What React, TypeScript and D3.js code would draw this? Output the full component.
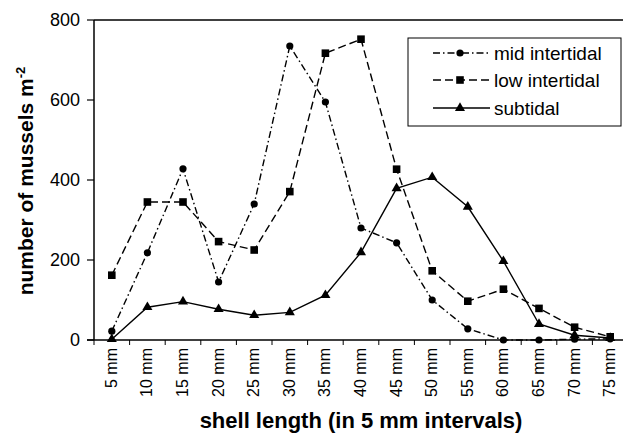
import React from "react";
import * as d3 from "d3";

const categories = ["5 mm","10 mm","15 mm","20 mm","25 mm","30 mm","35 mm","40 mm","45 mm","50 mm","55 mm","60 mm","65 mm","70 mm","75 mm"];
const midIntertidal = [22,218,428,145,340,735,595,280,243,100,28,0,0,2,3];
const lowIntertidal = [162,345,345,246,225,371,717,752,427,173,97,127,79,32,8];
const subtidal = [2,82,96,77,62,69,112,219,379,407,333,197,40,12,5];
const yTicks = [0,200,400,600,800];
const seriesNames = ["mid intertidal","low intertidal","subtidal"];

const W = 623, H = 434;
const left = 94, right = 628, top = 20, bottom = 340;

export default function App() {
  const x = d3.scaleBand<string>().domain(categories).range([left, right]);
  const y = d3.scaleLinear().domain([0, 800]).range([bottom, top]);
  const cx = (c: string) => (x(c) as number) + x.bandwidth() / 2;
  const line = d3.line<number>().x((_, i) => cx(categories[i])).y(d => y(d));

  const series = [
    { name: seriesNames[0], data: midIntertidal, dash: "7,3,1.5,3", marker: "circle" },
    { name: seriesNames[1], data: lowIntertidal, dash: "8,4", marker: "square" },
    { name: seriesNames[2], data: subtidal, dash: "none", marker: "triangle" },
  ];

  const marker = (type: string, px: number, py: number, key: any) => {
    if (type === "circle") return <circle key={key} cx={px} cy={py} r={3.6} fill="#000" />;
    if (type === "square") return <rect key={key} x={px - 3.8} y={py - 3.8} width={7.6} height={7.6} fill="#000" />;
    const s = d3.symbol().type(d3.symbolTriangle).size(44)();
    return <path key={key} d={s as string} transform={`translate(${px},${py})`} fill="#000" />;
  };

  const legX = 408, legY = 38, legW = 213, legH = 88;
  const legRows = [53, 80, 108];

  return (
    <svg width={W} height={H} style={{ position: "absolute", left: 0, top: 0, fontFamily: "Arial, 'Liberation Sans', sans-serif" }}>
      <rect x={0} y={0} width={W} height={H} fill="#fff" />
      {/* axes frame */}
      <line x1={left} y1={top} x2={W} y2={top} stroke="#000" strokeWidth={1.5} />
      <line x1={left} y1={top} x2={left} y2={bottom} stroke="#000" strokeWidth={1.5} />
      <line x1={left - 7} y1={bottom} x2={W} y2={bottom} stroke="#000" strokeWidth={1.5} />
      {yTicks.map(t => (
        <g key={t}>
          <line x1={left - 7} x2={left} y1={y(t)} y2={y(t)} stroke="#000" strokeWidth={1.2} />
          <text x={80} y={y(t)} dy="0.36em" textAnchor="end" fontSize={18}>{t}</text>
        </g>
      ))}
      {categories.map((c, i) => (
        <line key={"tk" + i} x1={x(c) as number} x2={x(c) as number} y1={bottom} y2={bottom + 5} stroke="#000" strokeWidth={1} />
      ))}
      {categories.map(c => (
        <text key={"lb" + c} transform={`translate(${cx(c) + 5},${bottom + 8}) rotate(-90)`} textAnchor="end" fontSize={16}>{c}</text>
      ))}
      {/* series */}
      {series.map(s => (
        <g key={s.name}>
          <path d={line(s.data) as string} fill="none" stroke="#000" strokeWidth={1.4} strokeDasharray={s.dash} />
          {s.data.map((v, i) => marker(s.marker, cx(categories[i]), y(v), s.name + i))}
        </g>
      ))}
      {/* legend */}
      <rect x={legX} y={legY} width={legW} height={legH} fill="#fff" stroke="#000" strokeWidth={1} />
      {series.map((s, i) => (
        <g key={"lg" + i}>
          <line x1={433} x2={490} y1={legRows[i]} y2={legRows[i]} stroke="#000" strokeWidth={1.4} strokeDasharray={s.dash} />
          {marker(s.marker, 460, legRows[i], "lm" + i)}
          <text x={494} y={legRows[i]} dy="0.36em" fontSize={19}>{s.name}</text>
        </g>
      ))}
      {/* axis titles */}
      <text transform={`translate(33,181) rotate(-90)`} textAnchor="middle" fontSize={21} fontWeight="bold">
        number of mussels m<tspan dy={-8} fontSize={13}>-2</tspan>
      </text>
      <text x={361} y={428} textAnchor="middle" fontSize={22} fontWeight="bold">shell length (in 5 mm intervals)</text>
    </svg>
  );
}
